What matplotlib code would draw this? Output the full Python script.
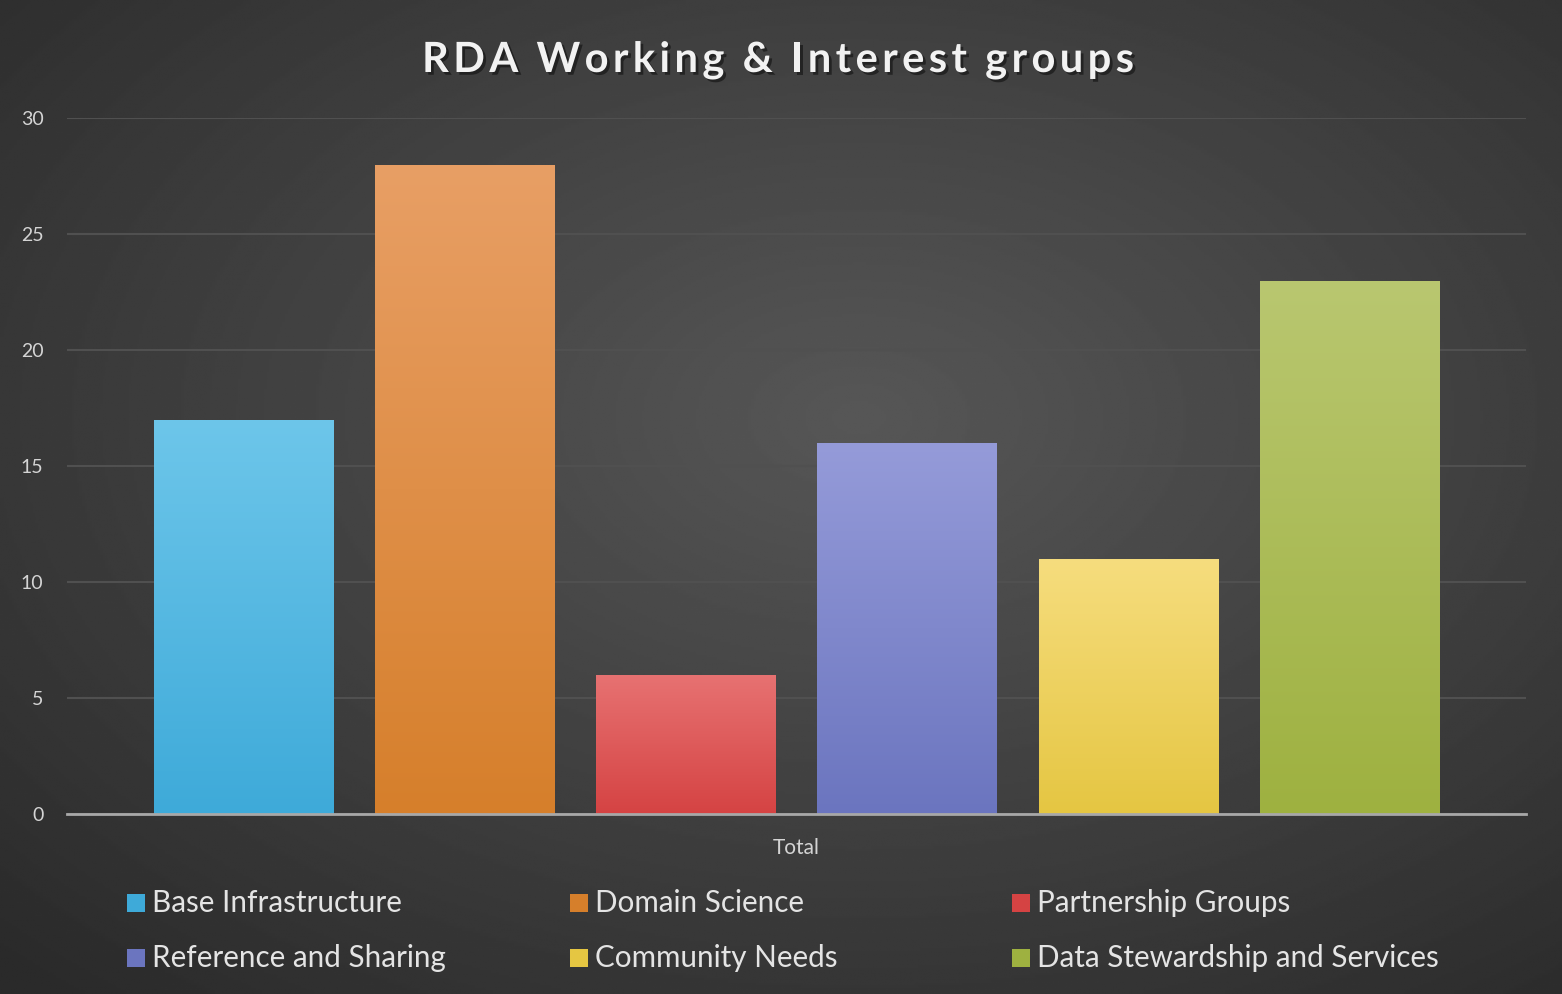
import matplotlib
import numpy as np
from matplotlib import rcParams
from matplotlib import patheffects as pe
from matplotlib.colors import LinearSegmentedColormap
from matplotlib.patches import Rectangle

matplotlib.use("Agg")
import matplotlib.pyplot as plt  # noqa: E402

rcParams["font.family"] = "Lato"

# data
groups = [
    "Base Infrastructure",
    "Domain Science",
    "Partnership Groups",
    "Reference and Sharing",
    "Community Needs",
    "Data Stewardship and Services",
]
counts = [17, 28, 6, 16, 11, 23]
category = "Total"
title = "RDA Working & Interest groups"

# (top colour, bottom colour) for every bar
bar_colors = [
    ("#6dc6ea", "#3eaad9"),
    ("#e89f65", "#d67f2b"),
    ("#e77272", "#d54343"),
    ("#959bd9", "#6b75bf"),
    ("#f6dd7e", "#e5c642"),
    ("#b9c770", "#9eb140"),
]

W, H = 1562, 994
fig = plt.figure(figsize=(W / 100, H / 100), dpi=100)

# radial background
bg = fig.add_axes([0, 0, 1, 1], zorder=-10)
yy, xx = np.mgrid[0:1:400j, 0:1:600j]
r = np.sqrt(((xx - 0.55) / 0.8) ** 2 + ((yy - 0.58) / 0.8) ** 2)
shade = np.clip(0.34 - 0.18 * r, 0.165, 0.34)
bg.imshow(shade, cmap="gray", vmin=0, vmax=1, aspect="auto", extent=[0, 1, 0, 1], origin="lower")
bg.set_xlim(0, 1)
bg.set_ylim(0, 1)
bg.set_axis_off()

ax = fig.add_axes([0.0429, 0.181, 0.934, 0.700])
ax.set_facecolor("none")

n = len(counts)
pos = np.arange(n) - (n - 1) / 2
bars = ax.bar(pos, counts, width=0.81, color="none", zorder=3)

for b, (top, bottom) in zip(bars, bar_colors):
    cmap = LinearSegmentedColormap.from_list("g", [bottom, top])
    grad = np.linspace(0, 1, 256).reshape(-1, 1)
    x0, w, h = b.get_x(), b.get_width(), b.get_height()
    im = ax.imshow(grad, cmap=cmap, aspect="auto", origin="lower",
                   extent=[x0, x0 + w, 0, h], zorder=3)
    im.set_clip_path(b)

ax.set_xlim(-3.30, 3.30)
ax.set_ylim(0, 30)
ax.set_yticks(range(0, 31, 5))
ax.set_xticks([0])
ax.set_xticklabels([category])
ax.grid(axis="y", color="#505050", linewidth=1.5, zorder=0)
ax.set_axisbelow(True)
for s in ["top", "right", "left"]:
    ax.spines[s].set_visible(False)
ax.spines["bottom"].set_color("#a8a8a8")
ax.spines["bottom"].set_linewidth(2)
ax.spines["bottom"].set_zorder(4)
ax.tick_params(axis="both", length=0, colors="#d4d4d4")
ax.tick_params(axis="y", pad=17, labelsize=14)
ax.tick_params(axis="x", pad=17, labelsize=15)

# title, letter-spaced by hand
renderer = fig.canvas.get_renderer()
tkw = dict(fontsize=30, fontweight="bold", color="#f2f2f2", va="baseline",
           path_effects=[pe.withSimplePatchShadow(offset=(2, -2), shadow_rgbFace="black", alpha=0.45)])
widths = []
for ch in title:
    t = fig.text(0, 0, ch if ch != " " else "a", **tkw)
    bb = t.get_window_extent(renderer)
    widths.append(bb.width * (0.45 if ch == " " else 1.0))
    t.remove()
track = 4.4
total = sum(widths) + track * (len(title) - 1)
x = 778 - total / 2
for ch, wd in zip(title, widths):
    if ch != " ":
        fig.text(x / W, 1 - 72 / H, ch, **tkw)
    x += wd + track

# legend, row by row
col_x = [127, 570, 1012]
row_y = [903, 958]
sq = 18
for i, (lab, (top, bottom)) in enumerate(zip(groups, bar_colors)):
    cx = col_x[i % 3]
    cy = row_y[i // 3]
    fig.patches.append(Rectangle(((cx) / W, 1 - (cy + sq / 2) / H), sq / W, sq / H,
                                 transform=fig.transFigure, facecolor=bottom,
                                 edgecolor="none"))
    fig.text((cx + sq + 7) / W, 1 - cy / H, lab, fontsize=21.3, color="#e4e4e4",
             va="center", ha="left")

fig.savefig("out.png", dpi=100, facecolor="#2b2b2b")
